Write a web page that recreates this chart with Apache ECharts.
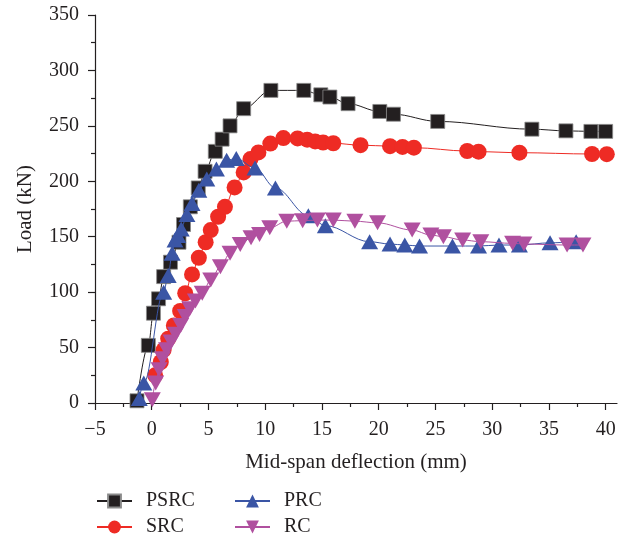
<!DOCTYPE html>
<html>
<head>
<meta charset="utf-8">
<script src="https://cdn.jsdelivr.net/npm/echarts@6/dist/echarts.min.js"></script>
<style>html,body{margin:0;padding:0;background:#fff}#c{width:625px;height:541px}</style>
</head>
<body>
<div id="c"></div>
<script>
// Data: [deflection (mm), load (kN)]
const psrc = [[-1.3,2],[-0.3,52],[0.15,81],[0.6,94],[1.05,114],[1.65,127],[2.4,145],[2.8,161],[3.4,177],[4.1,194],[4.7,209],[5.6,227],[6.2,238],[6.9,250],[8.1,265.5],[10.5,282],[13.4,282],[14.9,278],[15.7,276],[17.3,270],[20.1,263],[21.3,260.5],[25.2,254],[33.5,247],[36.5,245.5],[38.7,245],[40.0,245]];
const src = [[0.3,25],[0.8,37],[1.05,48],[1.45,58],[1.95,70],[2.5,83],[2.95,99],[3.55,116],[4.15,131],[4.75,145],[5.2,156],[5.85,168],[6.45,177],[7.3,194.5],[8.1,208],[8.7,220],[9.4,226],[10.45,234],[11.6,239],[12.85,238.7],[13.7,237.5],[14.4,236],[15.1,235],[16.0,234.3],[18.4,232.6],[21.0,231.7],[22.1,231],[23.1,230.3],[27.8,227.3],[28.8,226.7],[32.4,225.8],[38.8,224.6],[40.1,224.5]];
const prc = [[-1.1,4],[-0.7,18],[1.05,100],[1.45,115],[1.8,135],[2.05,147],[2.3,151],[2.6,157],[3.1,170],[3.55,180],[4.15,192],[4.85,202],[5.7,211],[6.6,219],[7.45,220.5],[9.1,212],[10.9,194],[13.8,169],[15.3,160],[19.2,145.5],[21.0,143.4],[22.3,142.5],[23.6,141.6],[26.5,141.6],[28.8,141.6],[30.6,142.5],[32.4,142.5],[35.1,144.5],[37.4,145.5]];
const rc = [[0.05,3],[0.35,18],[0.65,30],[0.95,40],[1.3,48],[1.7,55],[2.1,62],[2.55,70],[2.95,78],[3.35,85],[3.85,92],[4.45,99],[5.2,111],[6.05,123],[6.9,135],[7.8,143],[8.75,149],[9.5,152],[10.4,158],[11.9,164],[13.3,164.5],[14.6,165],[16.0,165],[17.9,164],[19.9,162.5],[22.95,156],[24.6,151.5],[25.7,150],[27.4,147],[29.0,145.5],[31.8,144],[32.8,143.4],[36.6,142.5],[38.0,142.5]];
const xMajorTicks = [-5,0,5,10,15,20,25,30,35,40];
const xMinorTicks = [-2.5,2.5,7.5,12.5,17.5,22.5,27.5,32.5,37.5];
const seriesNames = ['PSRC','SRC','PRC','RC'];
const seriesColors = ['#231f20','#ee2b24','#3a55a5','#b0509f'];

const FONT = '"Liberation Serif","DejaVu Serif",serif';
const TXT = '#231f20';
const chart = echarts.init(document.getElementById('c'), null, {renderer:'canvas'});

const datasets = [psrc, src, prc, rc];
const symbols = ['rect','circle','triangle','path://M0,0 L10,0 L5,8.66 Z'];
const sizes = [[14,14],16,[17,15],[17,15]];

const series = datasets.map((d,i)=>({
  name: seriesNames[i],
  type: 'line',
  xAxisIndex: 0, yAxisIndex: 0,
  data: d,
  smooth: 0.35,
  smoothMonotone: 'x',
  symbol: symbols[i],
  symbolSize: sizes[i],
  showAllSymbol: true,
  lineStyle: {color: seriesColors[i], width: 1},
  itemStyle: {color: seriesColors[i], borderColor: i===0 ? '#8a8a8a' : seriesColors[i], borderWidth: i===0 ? 0.8 : 0, opacity: 1},
  z: 2 + i,
  animation: false
}));

const legendCommon = {
  orient: 'vertical',
  top: 491,
  padding: 0,
  itemWidth: 35,
  itemHeight: 16,
  itemGap: 6,
  textStyle: {fontFamily: FONT, fontSize: 20, lineHeight: 20, color: TXT, padding: [0,0,0,9]},
};

chart.setOption({
  animation: false,
  backgroundColor: '#fff',
  grid: {left: 95, top: 15, right: 8, bottom: 138, containLabel: false},
  xAxis: [{
    type: 'value', min: -5, max: 41,
    name: 'Mid-span deflection (mm)', nameLocation: 'middle', nameGap: 49,
    nameTextStyle: {fontFamily: FONT, fontSize: 21, color: TXT},
    axisLine: {show: true, onZero: false, lineStyle: {color: TXT, width: 1.2}},
    axisTick: {show: true, customValues: xMajorTicks, length: 7, lineStyle: {color: TXT, width: 1.2}},
    axisLabel: {customValues: xMajorTicks, fontFamily: FONT, fontSize: 20, color: TXT, margin: 17,
      formatter: v => v < 0 ? '\u2212' + Math.abs(v) : String(v)},
    splitLine: {show: false}
  },{
    type: 'value', min: -5, max: 41, position: 'bottom',
    axisLine: {show: false, onZero: false},
    axisTick: {show: true, customValues: xMinorTicks, length: 4, lineStyle: {color: TXT, width: 1.2}},
    axisLabel: {show: false},
    splitLine: {show: false}
  }],
  yAxis: {
    type: 'value', min: 0, max: 350, interval: 50,
    name: 'Load (kN)', nameLocation: 'middle', nameGap: 59,
    nameTextStyle: {fontFamily: FONT, fontSize: 21, color: TXT},
    axisLine: {show: true, onZero: false, lineStyle: {color: TXT, width: 1.2}},
    axisTick: {show: true, length: 7, lineStyle: {color: TXT, width: 1.2}},
    minorTick: {show: true, splitNumber: 2, length: 4, lineStyle: {color: TXT, width: 1.2}},
    axisLabel: {fontFamily: FONT, fontSize: 20, color: TXT, margin: 16},
    splitLine: {show: false}, minorSplitLine: {show: false}
  },
  legend: [
    Object.assign({}, legendCommon, {left: 96, data: ['PSRC','SRC']}),
    Object.assign({}, legendCommon, {left: 234, data: ['PRC','RC']})
  ],
  series: series
});
</script>
</body>
</html>
